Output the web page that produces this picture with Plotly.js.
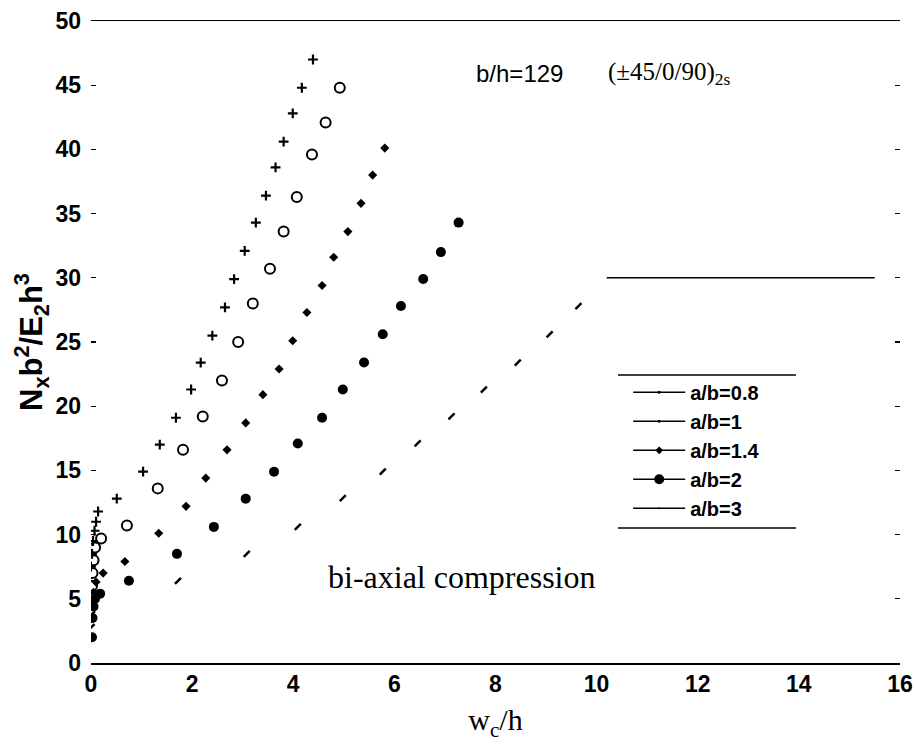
<!DOCTYPE html>
<html>
<head>
<meta charset="utf-8">
<script src="https://cdn.plot.ly/plotly-3.0.1.min.js"></script>
<style>html,body{margin:0;padding:0;background:#fff;}#chart{width:916px;height:744px;}</style>
</head>
<body>
<div id="chart"></div>
<script>
// ---- data ----
const seriesNames = ["a/b=0.8", "a/b=1", "a/b=1.4", "a/b=2", "a/b=3"];

const x_ab08 = [0.00, 0.02, 0.04, 0.07, 0.10, 0.14, 0.51, 1.03, 1.36, 1.68, 1.98, 2.17, 2.40, 2.65, 2.83, 3.04, 3.26, 3.46, 3.65, 3.81, 3.99, 4.17, 4.39];
const y_ab08 = [7.5, 8.5, 9.5, 10.3, 11.0, 11.8, 12.8, 14.9, 17.0, 19.1, 21.3, 23.4, 25.5, 27.7, 29.9, 32.1, 34.3, 36.4, 38.6, 40.6, 42.8, 44.8, 47.0];

const x_ab1 = [0.02, 0.03, 0.05, 0.08, 0.20, 0.71, 1.32, 1.82, 2.21, 2.59, 2.91, 3.20, 3.54, 3.81, 4.07, 4.37, 4.64, 4.92];
const y_ab1 = [6.0, 7.0, 8.0, 9.0, 9.7, 10.7, 13.6, 16.6, 19.2, 22.0, 25.0, 28.0, 30.7, 33.6, 36.3, 39.6, 42.1, 44.8];

const x_ab14 = [0.02, 0.05, 0.10, 0.24, 0.67, 1.34, 1.88, 2.27, 2.69, 3.06, 3.40, 3.72, 3.99, 4.27, 4.57, 4.80, 5.08, 5.34, 5.57, 5.81];
const y_ab14 = [4.5, 5.5, 6.3, 7.0, 7.9, 10.1, 12.2, 14.4, 16.6, 18.7, 20.9, 22.9, 25.1, 27.3, 29.4, 31.6, 33.6, 35.8, 38.0, 40.1];

const x_ab2 = [0.02, 0.03, 0.05, 0.08, 0.18, 0.75, 1.70, 2.43, 3.06, 3.62, 4.09, 4.57, 4.98, 5.40, 5.77, 6.13, 6.57, 6.92, 7.27];
const y_ab2 = [2.0, 3.5, 4.4, 5.0, 5.4, 6.4, 8.5, 10.6, 12.8, 14.9, 17.1, 19.1, 21.3, 23.4, 25.6, 27.8, 29.9, 32.0, 34.3];

const x_ab3 = [0.01, 0.02, 0.04, 1.72, 3.08, 4.09, 4.98, 5.77, 6.46, 7.13, 7.77, 8.44, 9.07, 9.64];
const y_ab3 = [2.8, 3.8, 4.8, 6.4, 8.5, 10.6, 12.85, 14.9, 17.1, 19.2, 21.3, 23.4, 25.6, 27.8];

// horizontal segment at N = 30 on the right
const x_plateau = [10.2, 15.5];
const y_plateau = [30, 30];

const xTicks = [0, 2, 4, 6, 8, 10, 12, 14, 16];
const yTicks = [0, 5, 10, 15, 20, 25, 30, 35, 40, 45, 50];

// ---- styles ----
const SANS = "Liberation Sans, Arial, sans-serif";
const SERIF = "Liberation Serif, Times New Roman, serif";
const markerStyles = [
  {symbol: "cross-thin", size: 7, color: "#000", line: {color: "#000", width: 2.2}},
  {symbol: "circle-open", size: 10, color: "#000", line: {color: "#000", width: 2}},
  {symbol: "diamond", size: 7, color: "#000"},
  {symbol: "circle", size: 10, color: "#000"},
  {symbol: "line-ne", size: 6, color: "#000", line: {color: "#000", width: 2.5}}
];
const legendMarkers = [
  {symbol: "circle", size: 3, color: "#000"},
  {symbol: "circle", size: 3, color: "#000"},
  {symbol: "diamond", size: 6, color: "#000"},
  {symbol: "circle", size: 10, color: "#000"},
  {symbol: "circle", size: 2, color: "#000"}
];
const xs = [x_ab08, x_ab1, x_ab14, x_ab2, x_ab3];
const ys = [y_ab08, y_ab1, y_ab14, y_ab2, y_ab3];

const traces = [];
for (let i = 0; i < seriesNames.length; i++) {
  traces.push({
    x: xs[i], y: ys[i], type: "scatter", mode: "markers",
    name: seriesNames[i], showlegend: false, marker: markerStyles[i], hoverinfo: "x+y"
  });
}
// legend entries (line + marker samples)
for (let i = 0; i < seriesNames.length; i++) {
  traces.push({
    x: [null], y: [null], type: "scatter", mode: "lines+markers",
    name: seriesNames[i], showlegend: true,
    line: {color: "#000", width: 1.4}, marker: legendMarkers[i]
  });
}
traces.push({
  x: x_plateau, y: y_plateau, type: "scatter", mode: "lines",
  showlegend: false, line: {color: "#000", width: 1.5}, hoverinfo: "skip"
});

const layout = {
  width: 916, height: 744,
  margin: {l: 91, r: 16, t: 21, b: 81},
  paper_bgcolor: "#fff", plot_bgcolor: "#fff",
  showlegend: true,
  xaxis: {
    range: [0, 16], tickvals: xTicks, ticktext: xTicks.map(String),
    showgrid: false, zeroline: false, showline: true, mirror: true,
    linecolor: "#000", linewidth: 1.5, ticks: "",
    tickfont: {family: SANS, size: 23, color: "#000", weight: "bold"},
    title: {text: "w<sub>c</sub>/h", font: {family: SERIF, size: 30, color: "#000"}, standoff: 13}
  },
  yaxis: {
    range: [0, 50], tickvals: yTicks, ticktext: yTicks.map(String),
    showgrid: false, zeroline: false, showline: false,
    ticks: "inside", ticklen: 5, tickwidth: 1.2, tickcolor: "#000", mirror: "ticks",
    ticklabelstandoff: 9,
    tickfont: {family: SANS, size: 23, color: "#000", weight: "bold"},
    title: {text: "N<sub>x</sub>b<sup>2</sup>/E<sub>2</sub>h<sup>3</sup>", font: {family: SANS, size: 31, color: "#000", weight: "bold"}, standoff: 3}
  },
  legend: {
    x: 0.664, y: 0.452, xanchor: "left", yanchor: "top",
    bgcolor: "rgba(255,255,255,0)", borderwidth: 0,
    font: {family: SANS, size: 20, color: "#000", weight: "bold"},
    traceorder: "normal", itemwidth: 52
  },
  shapes: [
    {type: "line", xref: "paper", yref: "paper", x0: 0.6514, x1: 0.8714, y0: 0.4486, y1: 0.4486, line: {color: "#000", width: 1.6}},
    {type: "line", xref: "paper", yref: "paper", x0: 0.6514, x1: 0.8714, y0: 0.2103, y1: 0.2103, line: {color: "#000", width: 1.6}}
  ],
  annotations: [
    {x: 8.48, y: 45.9, xref: "x", yref: "y", text: "b/h=129", showarrow: false,
     font: {family: SANS, size: 24, color: "#000"}},
    {x: 11.44, y: 45.9, xref: "x", yref: "y", text: "(±45/0/90)<sub>2s</sub>", showarrow: false,
     font: {family: SERIF, size: 25, color: "#000"}},
    {x: 7.33, y: 6.7, xref: "x", yref: "y", text: "bi-axial compression", showarrow: false,
     font: {family: SERIF, size: 32, color: "#000"}}
  ]
};

Plotly.newPlot("chart", traces, layout, {displayModeBar: false, staticPlot: true});
</script>
</body>
</html>
